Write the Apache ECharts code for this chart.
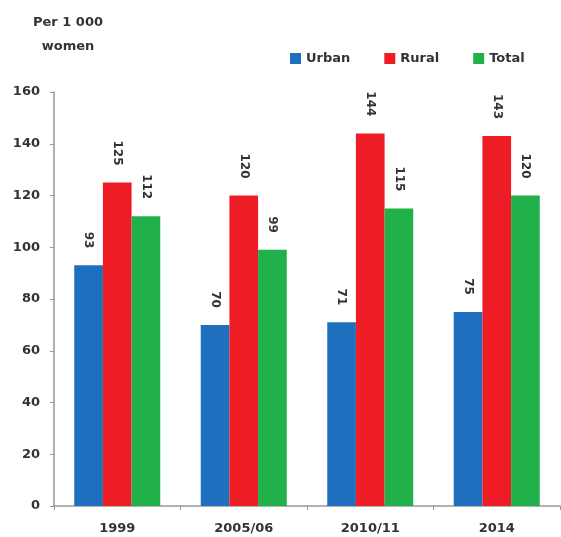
<!DOCTYPE html>
<html><head><meta charset="utf-8">
<script src="https://cdn.jsdelivr.net/npm/echarts@6/dist/echarts.min.js"></script>
<style>html,body{margin:0;padding:0;background:#fff}#c{width:561px;height:537px}</style>
</head><body><div id="c"></div>
<script>
var categories = ['1999', '2005/06', '2010/11', '2014'];
var urban = [93, 70, 71, 75];
var rural = [125, 120, 144, 143];
var total = [112, 99, 115, 120];
var yTicks = {min: 0, max: 160, interval: 20};

var font = 'DejaVu Sans, sans-serif';
var lbl = {show: true, position: 'top', rotate: -90, align: 'right', verticalAlign: 'middle', distance: 17,
  color: '#333', fontFamily: font, fontWeight: 'bold', fontSize: 12};
function s(name, data, color) {
  return {name: name, type: 'bar', data: data, barGap: '0%', barCategoryGap: '32%',
    itemStyle: {color: color}, label: lbl};
}
var chart = echarts.init(document.getElementById('c'));
chart.setOption({
  animation: false,
  graphic: [
    {type: 'text', x: 68, y: 23, style: {text: 'Per 1 000', align: 'center', verticalAlign: 'middle',
      font: 'bold 13px DejaVu Sans, sans-serif', fill: '#333'}},
    {type: 'text', x: 68, y: 47, style: {text: 'women', align: 'center', verticalAlign: 'middle',
      font: 'bold 13px DejaVu Sans, sans-serif', fill: '#333'}}
  ],
  legend: {top: 47, left: 285, itemWidth: 11, itemHeight: 11, itemGap: 34, icon: 'rect',
    textStyle: {fontFamily: font, fontWeight: 'bold', fontSize: 13, color: '#333'}},
  grid: {left: 54, right: 1, top: 92, bottom: 31},
  xAxis: {type: 'category', data: categories,
    axisLine: {lineStyle: {color: '#999', width: 1.5}},
    axisTick: {show: true, length: 4, lineStyle: {color: '#999'}},
    axisLabel: {fontFamily: font, fontWeight: 'bold', fontSize: 13, color: '#333', margin: 16}},
  yAxis: {type: 'value', min: yTicks.min, max: yTicks.max, interval: yTicks.interval,
    splitLine: {show: false},
    axisLine: {show: true, lineStyle: {color: '#999', width: 1.5}},
    axisTick: {show: true, length: 4, lineStyle: {color: '#999'}},
    axisLabel: {fontFamily: font, fontWeight: 'bold', fontSize: 13, color: '#333', margin: 14}},
  series: [s('Urban', urban, '#1f6fbf'), s('Rural', rural, '#ee1c25'), s('Total', total, '#22b04b')]
});
</script></body></html>
